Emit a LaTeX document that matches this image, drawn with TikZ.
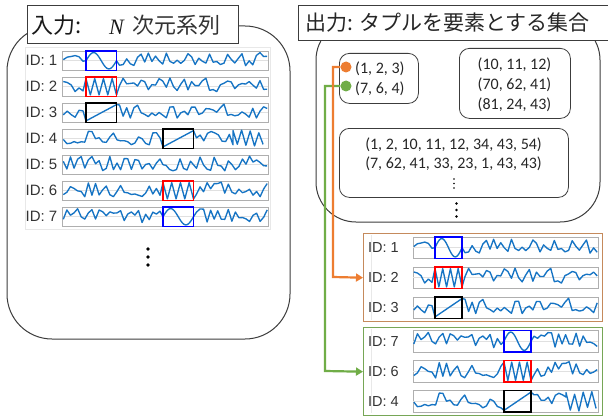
\documentclass[tikz,border=0pt]{standalone}
\usepackage{fontspec}
\setmainfont{Liberation Sans}
\newfontfamily\jpfont{Noto Sans CJK JP}
\newfontfamily\tupfont{Carlito}
\newfontfamily\nfont{Liberation Serif}
\usetikzlibrary{arrows.meta}
\definecolor{tsblue}{RGB}{22,116,196}
\definecolor{framegray}{RGB}{60,60,60}
\definecolor{panelgray}{RGB}{175,175,175}
\definecolor{gridgray}{RGB}{224,224,224}
\definecolor{orangec}{RGB}{237,125,49}
\definecolor{greenc}{RGB}{112,173,71}
\definecolor{oboxc}{RGB}{197,138,92}
\definecolor{gboxc}{RGB}{118,166,86}
\tikzset{
  bigbox/.style={draw=framegray, line width=1pt},
  titlebox/.style={draw=framegray, line width=1pt, fill=white, inner sep=0pt},
  tupbox/.style={draw=framegray, line width=0.8pt, rounded corners=10pt, inner sep=0pt},
  panel/.style={draw=panelgray, line width=0.9pt},
  gridl/.style={draw=gridgray, line width=0.6pt},
  series/.style={draw=tsblue, line width=1.35pt, line join=round},
  hl/.style={line width=1.4pt},
  idlbl/.style={font=\fontsize{15}{15}\selectfont, text=black!80, inner sep=0pt, anchor=east},
  tup/.style={font=\tupfont\fontsize{16}{16}\selectfont, inner sep=0pt, text=black!85},
  conn/.style={line width=2.2pt, -{Triangle[length=7pt,width=8pt]}},
  dotc/.style={circle, inner sep=0pt, minimum size=11pt},
  vdot/.style={circle, fill=black, inner sep=0pt},
  grpbox/.style={line width=1.4pt, inner sep=0pt, anchor=north west},
}
\newcommand\tsrow[9]{%
  \pgfmathsetseed{#8}%
  \pgfmathsetmacro\tsmid{#2+#4/2}%
  \pgfmathsetmacro\tstop{#2+1.6}%
  \pgfmathsetmacro\tsbot{#2+#4-1.6}%
  \pgfmathsetmacro\tsamp{0.38*#4}%
  \pgfmathsetmacro\tsoff{-0.07*#4}%
  \pgfmathsetmacro\tswild{0.45*#4}%
  \pgfmathsetmacro\tsaA{#1+0.8}%
  \pgfmathsetmacro\tsaB{#5-3}%
  \pgfmathsetmacro\tsbA{#6+3}%
  \pgfmathsetmacro\tsbB{#1+#3-0.8}%
  \pgfmathsetmacro\tsbC{min(#9,\tsbB)}%
  \pgfmathsetmacro\tsmA{#5+3}%
  \pgfmathsetmacro\tsmB{#6-3}%
  \pgfmathtruncatemacro\tsnA{max(2,round((\tsaB-\tsaA)/3.6)+1)}%
  \pgfmathtruncatemacro\tsnB{max(2,round((\tsbC-\tsbA)/3.6)+1)}%
  \pgfmathtruncatemacro\tsnW{max(1,floor((\tsbB-\tsbC)/4.3))}%
  \pgfmathtruncatemacro\tsnWp{\tsnW+1}%
  \ifcase#7\relax
    \let\tsS\tsmid\let\tsE\tsmid\def\tscol{black}%
  \or \let\tsS\tsmid\let\tsE\tsmid\def\tscol{blue}%
  \or \let\tsS\tstop\let\tsE\tsbot\def\tscol{red}%
  \or \let\tsS\tsbot\let\tsE\tstop\def\tscol{black}%
  \fi
  \draw[panel] (#1,#2) rectangle ++(#3,#4);
  \draw[gridl] (#1,\tsmid) -- ++(#3,0);
  \draw[series] plot[domain=\tsaA:\tsaB, samples=\tsnA] (\x,{\tsmid+\tsoff+\tsamp*rand}) -- (#5,\tsS);
  \ifcase#7\relax
    \draw[series] (#5,\tsS) -- plot[domain=\tsmA:\tsmB, samples=8] (\x,{\tsmid+\tsoff+\tsamp*rand}) -- (#6,\tsE);
  \or
    \draw[series] plot[domain=#5:#6, samples=33, smooth] (\x,{\tsmid-(#4/2-1.6)*sin(360*(\x-#5)/(#6-#5))});
  \or
    \draw[series] plot[domain=0:7, samples=8] ({#5+\x*(#6-#5)/7},{\tsmid-(#4/2-1.6)*cos(180*\x)});
  \or
    \draw[series] (#5,\tsbot) -- (#6,\tstop);
  \fi
  \ifdim #9pt<\tsbB pt
    \draw[series] (#6,\tsE) -- plot[domain=\tsbA:\tsbC, samples=\tsnB] (\x,{\tsmid+\tsoff+\tsamp*rand})
      -- plot[domain=0:\tsnW, samples=\tsnWp] ({\tsbC+\x*4.3},{\tsmid-\tswild*(0.8+0.2*rand)*cos(180*\x)});
  \else
    \draw[series] (#6,\tsE) -- plot[domain=\tsbA:\tsbB, samples=\tsnB] (\x,{\tsmid+\tsoff+\tsamp*rand});
  \fi
  \ifnum#7>0 \draw[hl, draw=\tscol] (#5,#2) rectangle (#6,#2+#4);\fi
}
\begin{document}
\begin{tikzpicture}[x=1pt, y=-1pt]
\useasboundingbox (0,0) rectangle (608,420);
\fill[white] (0,0) rectangle (608,420);

% ---------- left: input ----------
\draw[bigbox, rounded corners=45pt] (7,26) rectangle (290,339);
\node[titlebox, anchor=north west, minimum width=211pt, minimum height=38pt] (intitle) at (27,5) {};
\node[anchor=base west, inner sep=0pt, font=\jpfont\fontsize{22}{22}\selectfont, text=black!90] (inlbl) at (31,34) {入力:};
\node[anchor=base west, inner sep=0pt, font=\nfont\itshape\fontsize{22}{22}\selectfont, text=black!90] (inN) at (109,35) {N};
\node[anchor=base west, inner sep=0pt, font=\jpfont\fontsize{22}{22}\selectfont, text=black!80] (indim) at (132,34) {次元系列};

\draw[gray!18, line width=0.6pt] (25,47) rectangle (270,229);
\foreach \k/\ptype/\xs/\sd/\wdx in {1/1/86/11/9999, 2/2/86/23/9999, 3/3/86/37/9999, 4/3/163/41/233, 5/0/163/53/9999, 6/2/163/67/9999, 7/1/163/71/9999}{
  \pgfmathsetmacro\yy{51+26*(\k-1)}
  \pgfmathsetmacro\xe{\xs+30.5}
  \tsrow{62.5}{\yy}{205.5}{19.5}{\xs}{\xe}{\ptype}{\sd}{\wdx}
  \node[idlbl] (lid\k) at (57.5,\yy+9.75) {ID: \k};
}
\node[vdot, minimum size=3.8pt] (ld1) at (148,249) {};
\node[vdot, minimum size=3.8pt] (ld2) at (148,257) {};
\node[vdot, minimum size=3.8pt] (ld3) at (148,265) {};

% ---------- right: output ----------
\draw[bigbox, rounded corners=40pt] (316,20) rectangle (600,222);
\node[titlebox, anchor=north west, minimum width=330pt, minimum height=35pt] (outtitle) at (298,5) {};
\node[anchor=base west, inner sep=0pt, font=\jpfont\fontsize{21}{21}\selectfont, text=black!85] (outlbl) at (305,31) {出力: タプルを要素とする集合};

\node[tupbox, anchor=north west, minimum width=79pt, minimum height=50pt] (tb1) at (339,53) {};
\node[tup, anchor=west] (t123) at (355,69) {(1, 2, 3)};
\node[tup, anchor=west] (t764) at (355,89) {(7, 6, 4)};

\node[tupbox, anchor=north west, minimum width=111pt, minimum height=70pt] (tb2) at (459,48) {};
\node[tup] (t101112) at (514.5,65) {(10, 11, 12)};
\node[tup] (t706241) at (514.5,85) {(70, 62, 41)};
\node[tup] (t812443) at (514.5,105) {(81, 24, 43)};

\node[tupbox, anchor=north west, minimum width=229pt, minimum height=69pt] (tb3) at (339,128) {};
\node[tup] (tlong1) at (453.5,144.5) {(1, 2, 10, 11, 12, 34, 43, 54)};
\node[tup] (tlong2) at (453.5,163.5) {(7, 62, 41, 33, 23, 1, 43, 43)};
\node[vdot, minimum size=1.8pt] (sd1) at (454,179) {};
\node[vdot, minimum size=1.8pt] (sd2) at (454,183.5) {};
\node[vdot, minimum size=1.8pt] (sd3) at (454,188) {};
\node[vdot, minimum size=2.8pt] (od1) at (456.5,203.5) {};
\node[vdot, minimum size=2.8pt] (od2) at (456.5,210) {};
\node[vdot, minimum size=2.8pt] (od3) at (456.5,216.5) {};

% result groups
\node[grpbox, draw=oboxc, minimum width=239pt, minimum height=88pt] (obox) at (363,233) {};
\node[grpbox, draw=gboxc, minimum width=239pt, minimum height=88pt] (gbox) at (363,327) {};
\draw[gray!18, line width=0.6pt] (371,235) -- (371,320);
\draw[gray!18, line width=0.6pt] (371,329) -- (371,413);

\foreach \k/\yy/\ptype/\sd/\wdx in {1/237/1/11/9999, 2/267/2/23/9999, 3/297/3/37/9999}{
  \tsrow{413}{\yy}{185}{21.5}{435}{462}{\ptype}{\sd}{\wdx}
  \node[idlbl, font=\fontsize{14.5}{14.5}\selectfont] (rid\k) at (399,\yy+10.75) {ID: \k};
}
\foreach \k/\yy/\ptype/\sd/\wdx in {7/330.5/1/71/9999, 6/360.5/2/67/9999, 4/390.5/3/41/566}{
  \tsrow{413}{\yy}{185}{21.5}{504}{531}{\ptype}{\sd}{\wdx}
  \node[idlbl, font=\fontsize{14.5}{14.5}\selectfont] (rid\k) at (399,\yy+10.75) {ID: \k};
}

% connectors
\node[dotc, fill=orangec] (odot) at (346,67) {};
\node[dotc, fill=greenc] (gdot) at (346,86) {};
\coordinate (oturn) at (333,277);
\coordinate (gturn) at (325,371);
\draw[conn, draw=greenc] (gdot.west) -| (gturn) -- (gbox.west);
\draw[conn, draw=orangec] (odot.west) -| (oturn) -- (obox.west);
\end{tikzpicture}
\end{document}
